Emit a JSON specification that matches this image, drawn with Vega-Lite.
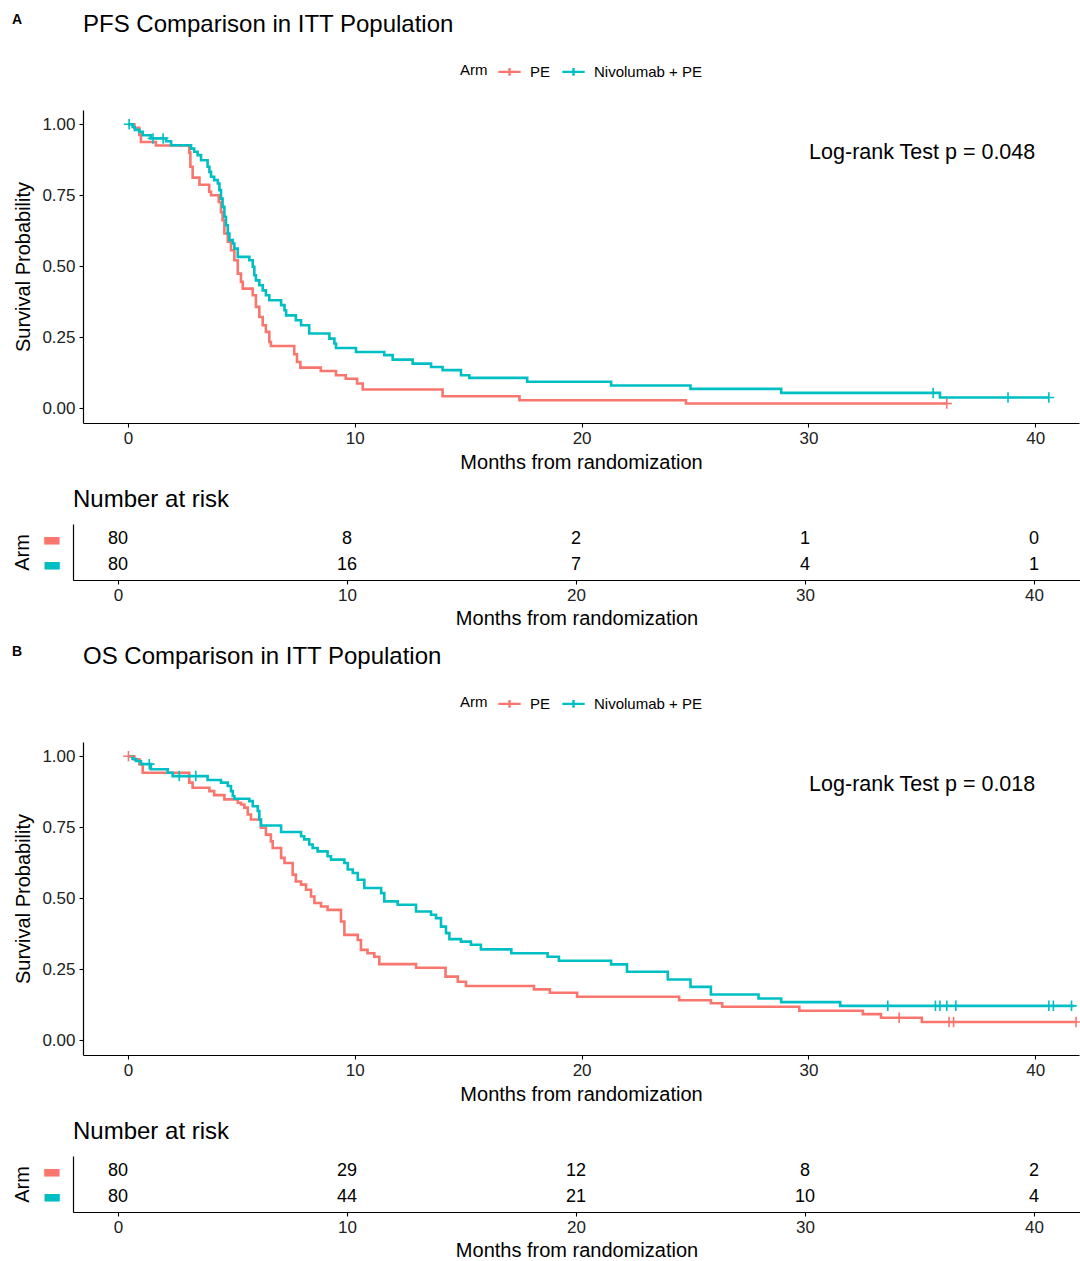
{
  "$schema": "https://vega.github.io/schema/vega-lite/v6.json",
  "padding": {"left": 12, "top": 13, "right": 0, "bottom": 0},
  "background": "white",
  "config": {
    "font": "Liberation Sans",
    "view": {"stroke": null},
    "axis": {
      "domainColor": "#000", "domainWidth": 1.2, "tickColor": "#000", "tickSize": 4, "tickWidth": 1.1,
      "labelColor": "#222", "titleColor": "#000", "titleFontWeight": "normal", "grid": false,
      "labelFont": "Liberation Sans", "titleFont": "Liberation Sans"
    },
    "title": {"color": "#000", "font": "Liberation Sans"},
    "legend": {"labelFont": "Liberation Sans", "titleFont": "Liberation Sans"}
  },
  "datasets": {
    "km": [
      {"study": "PFS", "arm": "PE", "t": 0, "s": 1},
      {"study": "PFS", "arm": "PE", "t": 0.28, "s": 0.9875},
      {"study": "PFS", "arm": "PE", "t": 0.5, "s": 0.9625},
      {"study": "PFS", "arm": "PE", "t": 0.57, "s": 0.9375},
      {"study": "PFS", "arm": "PE", "t": 1.23, "s": 0.925},
      {"study": "PFS", "arm": "PE", "t": 2.7, "s": 0.9},
      {"study": "PFS", "arm": "PE", "t": 2.75, "s": 0.85},
      {"study": "PFS", "arm": "PE", "t": 2.85, "s": 0.812},
      {"study": "PFS", "arm": "PE", "t": 3.15, "s": 0.787},
      {"study": "PFS", "arm": "PE", "t": 3.58, "s": 0.762},
      {"study": "PFS", "arm": "PE", "t": 3.66, "s": 0.75},
      {"study": "PFS", "arm": "PE", "t": 4.0, "s": 0.726},
      {"study": "PFS", "arm": "PE", "t": 4.1, "s": 0.69},
      {"study": "PFS", "arm": "PE", "t": 4.17, "s": 0.662},
      {"study": "PFS", "arm": "PE", "t": 4.25, "s": 0.615},
      {"study": "PFS", "arm": "PE", "t": 4.4, "s": 0.586},
      {"study": "PFS", "arm": "PE", "t": 4.54, "s": 0.556},
      {"study": "PFS", "arm": "PE", "t": 4.69, "s": 0.521},
      {"study": "PFS", "arm": "PE", "t": 4.84, "s": 0.474},
      {"study": "PFS", "arm": "PE", "t": 4.98, "s": 0.445},
      {"study": "PFS", "arm": "PE", "t": 5.06, "s": 0.421},
      {"study": "PFS", "arm": "PE", "t": 5.5, "s": 0.398},
      {"study": "PFS", "arm": "PE", "t": 5.64, "s": 0.357},
      {"study": "PFS", "arm": "PE", "t": 5.79, "s": 0.321},
      {"study": "PFS", "arm": "PE", "t": 5.94, "s": 0.292},
      {"study": "PFS", "arm": "PE", "t": 6.08, "s": 0.269},
      {"study": "PFS", "arm": "PE", "t": 6.23, "s": 0.233},
      {"study": "PFS", "arm": "PE", "t": 6.3, "s": 0.219},
      {"study": "PFS", "arm": "PE", "t": 7.33, "s": 0.19},
      {"study": "PFS", "arm": "PE", "t": 7.45, "s": 0.163},
      {"study": "PFS", "arm": "PE", "t": 7.6, "s": 0.143},
      {"study": "PFS", "arm": "PE", "t": 8.5, "s": 0.131},
      {"study": "PFS", "arm": "PE", "t": 9.17, "s": 0.116},
      {"study": "PFS", "arm": "PE", "t": 9.6, "s": 0.104},
      {"study": "PFS", "arm": "PE", "t": 10.1, "s": 0.087},
      {"study": "PFS", "arm": "PE", "t": 10.35, "s": 0.066},
      {"study": "PFS", "arm": "PE", "t": 13.87, "s": 0.042},
      {"study": "PFS", "arm": "PE", "t": 17.26, "s": 0.028},
      {"study": "PFS", "arm": "PE", "t": 24.6, "s": 0.0165},
      {"study": "PFS", "arm": "PE", "t": 36.1, "s": 0.0165},
      {"study": "PFS", "arm": "Nivolumab + PE", "t": 0, "s": 1},
      {"study": "PFS", "arm": "Nivolumab + PE", "t": 0.2, "s": 0.99},
      {"study": "PFS", "arm": "Nivolumab + PE", "t": 0.3, "s": 0.98},
      {"study": "PFS", "arm": "Nivolumab + PE", "t": 0.5, "s": 0.973},
      {"study": "PFS", "arm": "Nivolumab + PE", "t": 0.65, "s": 0.961},
      {"study": "PFS", "arm": "Nivolumab + PE", "t": 1.0, "s": 0.95},
      {"study": "PFS", "arm": "Nivolumab + PE", "t": 1.68, "s": 0.94},
      {"study": "PFS", "arm": "Nivolumab + PE", "t": 1.9, "s": 0.926},
      {"study": "PFS", "arm": "Nivolumab + PE", "t": 2.78, "s": 0.914},
      {"study": "PFS", "arm": "Nivolumab + PE", "t": 2.92, "s": 0.903},
      {"study": "PFS", "arm": "Nivolumab + PE", "t": 3.07, "s": 0.891},
      {"study": "PFS", "arm": "Nivolumab + PE", "t": 3.22, "s": 0.873},
      {"study": "PFS", "arm": "Nivolumab + PE", "t": 3.51, "s": 0.85},
      {"study": "PFS", "arm": "Nivolumab + PE", "t": 3.59, "s": 0.832},
      {"study": "PFS", "arm": "Nivolumab + PE", "t": 3.66, "s": 0.815},
      {"study": "PFS", "arm": "Nivolumab + PE", "t": 3.8, "s": 0.803},
      {"study": "PFS", "arm": "Nivolumab + PE", "t": 3.96, "s": 0.791},
      {"study": "PFS", "arm": "Nivolumab + PE", "t": 4.03, "s": 0.768},
      {"study": "PFS", "arm": "Nivolumab + PE", "t": 4.1, "s": 0.738},
      {"study": "PFS", "arm": "Nivolumab + PE", "t": 4.17, "s": 0.709},
      {"study": "PFS", "arm": "Nivolumab + PE", "t": 4.25, "s": 0.674},
      {"study": "PFS", "arm": "Nivolumab + PE", "t": 4.32, "s": 0.644},
      {"study": "PFS", "arm": "Nivolumab + PE", "t": 4.4, "s": 0.615},
      {"study": "PFS", "arm": "Nivolumab + PE", "t": 4.47, "s": 0.592},
      {"study": "PFS", "arm": "Nivolumab + PE", "t": 4.62, "s": 0.58},
      {"study": "PFS", "arm": "Nivolumab + PE", "t": 4.69, "s": 0.562},
      {"study": "PFS", "arm": "Nivolumab + PE", "t": 4.84, "s": 0.533},
      {"study": "PFS", "arm": "Nivolumab + PE", "t": 5.35, "s": 0.521},
      {"study": "PFS", "arm": "Nivolumab + PE", "t": 5.5, "s": 0.498},
      {"study": "PFS", "arm": "Nivolumab + PE", "t": 5.57, "s": 0.468},
      {"study": "PFS", "arm": "Nivolumab + PE", "t": 5.64, "s": 0.45},
      {"study": "PFS", "arm": "Nivolumab + PE", "t": 5.79, "s": 0.433},
      {"study": "PFS", "arm": "Nivolumab + PE", "t": 5.94, "s": 0.415},
      {"study": "PFS", "arm": "Nivolumab + PE", "t": 6.08, "s": 0.398},
      {"study": "PFS", "arm": "Nivolumab + PE", "t": 6.23, "s": 0.38},
      {"study": "PFS", "arm": "Nivolumab + PE", "t": 6.75, "s": 0.363},
      {"study": "PFS", "arm": "Nivolumab + PE", "t": 6.9, "s": 0.345},
      {"study": "PFS", "arm": "Nivolumab + PE", "t": 6.97, "s": 0.327},
      {"study": "PFS", "arm": "Nivolumab + PE", "t": 7.4, "s": 0.31},
      {"study": "PFS", "arm": "Nivolumab + PE", "t": 7.63, "s": 0.292},
      {"study": "PFS", "arm": "Nivolumab + PE", "t": 7.99, "s": 0.263},
      {"study": "PFS", "arm": "Nivolumab + PE", "t": 8.88, "s": 0.245},
      {"study": "PFS", "arm": "Nivolumab + PE", "t": 9.1, "s": 0.228},
      {"study": "PFS", "arm": "Nivolumab + PE", "t": 9.17, "s": 0.212},
      {"study": "PFS", "arm": "Nivolumab + PE", "t": 10.05, "s": 0.198},
      {"study": "PFS", "arm": "Nivolumab + PE", "t": 11.3, "s": 0.187},
      {"study": "PFS", "arm": "Nivolumab + PE", "t": 11.67, "s": 0.171},
      {"study": "PFS", "arm": "Nivolumab + PE", "t": 12.55, "s": 0.157},
      {"study": "PFS", "arm": "Nivolumab + PE", "t": 13.36, "s": 0.145},
      {"study": "PFS", "arm": "Nivolumab + PE", "t": 13.87, "s": 0.134},
      {"study": "PFS", "arm": "Nivolumab + PE", "t": 14.68, "s": 0.116},
      {"study": "PFS", "arm": "Nivolumab + PE", "t": 15.05, "s": 0.107},
      {"study": "PFS", "arm": "Nivolumab + PE", "t": 17.6, "s": 0.093},
      {"study": "PFS", "arm": "Nivolumab + PE", "t": 21.3, "s": 0.08},
      {"study": "PFS", "arm": "Nivolumab + PE", "t": 24.8, "s": 0.068},
      {"study": "PFS", "arm": "Nivolumab + PE", "t": 28.8, "s": 0.054},
      {"study": "PFS", "arm": "Nivolumab + PE", "t": 35.8, "s": 0.038},
      {"study": "PFS", "arm": "Nivolumab + PE", "t": 40.6, "s": 0.038},
      {"study": "OS", "arm": "PE", "t": 0, "s": 1},
      {"study": "OS", "arm": "PE", "t": 0.28, "s": 0.989},
      {"study": "OS", "arm": "PE", "t": 0.5, "s": 0.972},
      {"study": "OS", "arm": "PE", "t": 0.65, "s": 0.942},
      {"study": "OS", "arm": "PE", "t": 2.7, "s": 0.907},
      {"study": "OS", "arm": "PE", "t": 2.85, "s": 0.889},
      {"study": "OS", "arm": "PE", "t": 3.59, "s": 0.877},
      {"study": "OS", "arm": "PE", "t": 3.8, "s": 0.863},
      {"study": "OS", "arm": "PE", "t": 4.25, "s": 0.848},
      {"study": "OS", "arm": "PE", "t": 4.84, "s": 0.836},
      {"study": "OS", "arm": "PE", "t": 4.98, "s": 0.83},
      {"study": "OS", "arm": "PE", "t": 5.13, "s": 0.819},
      {"study": "OS", "arm": "PE", "t": 5.28, "s": 0.795},
      {"study": "OS", "arm": "PE", "t": 5.42, "s": 0.777},
      {"study": "OS", "arm": "PE", "t": 5.86, "s": 0.748},
      {"study": "OS", "arm": "PE", "t": 6.08, "s": 0.724},
      {"study": "OS", "arm": "PE", "t": 6.3, "s": 0.7},
      {"study": "OS", "arm": "PE", "t": 6.38, "s": 0.677},
      {"study": "OS", "arm": "PE", "t": 6.75, "s": 0.642},
      {"study": "OS", "arm": "PE", "t": 6.9, "s": 0.624},
      {"study": "OS", "arm": "PE", "t": 7.26, "s": 0.583},
      {"study": "OS", "arm": "PE", "t": 7.4, "s": 0.559},
      {"study": "OS", "arm": "PE", "t": 7.63, "s": 0.548},
      {"study": "OS", "arm": "PE", "t": 7.85, "s": 0.53},
      {"study": "OS", "arm": "PE", "t": 8.07, "s": 0.506},
      {"study": "OS", "arm": "PE", "t": 8.22, "s": 0.483},
      {"study": "OS", "arm": "PE", "t": 8.51, "s": 0.471},
      {"study": "OS", "arm": "PE", "t": 8.8, "s": 0.459},
      {"study": "OS", "arm": "PE", "t": 9.39, "s": 0.418},
      {"study": "OS", "arm": "PE", "t": 9.54, "s": 0.371},
      {"study": "OS", "arm": "PE", "t": 10.13, "s": 0.353},
      {"study": "OS", "arm": "PE", "t": 10.27, "s": 0.318},
      {"study": "OS", "arm": "PE", "t": 10.56, "s": 0.306},
      {"study": "OS", "arm": "PE", "t": 10.86, "s": 0.294},
      {"study": "OS", "arm": "PE", "t": 11.08, "s": 0.268},
      {"study": "OS", "arm": "PE", "t": 12.7, "s": 0.255},
      {"study": "OS", "arm": "PE", "t": 14.0, "s": 0.224},
      {"study": "OS", "arm": "PE", "t": 14.54, "s": 0.206},
      {"study": "OS", "arm": "PE", "t": 14.9, "s": 0.191},
      {"study": "OS", "arm": "PE", "t": 17.9, "s": 0.179},
      {"study": "OS", "arm": "PE", "t": 18.6, "s": 0.167},
      {"study": "OS", "arm": "PE", "t": 19.8, "s": 0.153},
      {"study": "OS", "arm": "PE", "t": 24.3, "s": 0.141},
      {"study": "OS", "arm": "PE", "t": 25.7, "s": 0.13},
      {"study": "OS", "arm": "PE", "t": 26.2, "s": 0.118},
      {"study": "OS", "arm": "PE", "t": 29.6, "s": 0.104},
      {"study": "OS", "arm": "PE", "t": 32.4, "s": 0.092},
      {"study": "OS", "arm": "PE", "t": 33.2, "s": 0.079},
      {"study": "OS", "arm": "PE", "t": 35.0, "s": 0.064},
      {"study": "OS", "arm": "PE", "t": 41.8, "s": 0.064},
      {"study": "OS", "arm": "Nivolumab + PE", "t": 0, "s": 1},
      {"study": "OS", "arm": "Nivolumab + PE", "t": 0.2, "s": 0.99},
      {"study": "OS", "arm": "Nivolumab + PE", "t": 0.35, "s": 0.983},
      {"study": "OS", "arm": "Nivolumab + PE", "t": 0.57, "s": 0.972},
      {"study": "OS", "arm": "Nivolumab + PE", "t": 1.01, "s": 0.954},
      {"study": "OS", "arm": "Nivolumab + PE", "t": 1.75, "s": 0.942},
      {"study": "OS", "arm": "Nivolumab + PE", "t": 1.97, "s": 0.93},
      {"study": "OS", "arm": "Nivolumab + PE", "t": 3.51, "s": 0.916},
      {"study": "OS", "arm": "Nivolumab + PE", "t": 4.1, "s": 0.907},
      {"study": "OS", "arm": "Nivolumab + PE", "t": 4.4, "s": 0.895},
      {"study": "OS", "arm": "Nivolumab + PE", "t": 4.54, "s": 0.877},
      {"study": "OS", "arm": "Nivolumab + PE", "t": 4.62, "s": 0.86},
      {"study": "OS", "arm": "Nivolumab + PE", "t": 4.69, "s": 0.85},
      {"study": "OS", "arm": "Nivolumab + PE", "t": 5.35, "s": 0.842},
      {"study": "OS", "arm": "Nivolumab + PE", "t": 5.5, "s": 0.824},
      {"study": "OS", "arm": "Nivolumab + PE", "t": 5.72, "s": 0.807},
      {"study": "OS", "arm": "Nivolumab + PE", "t": 5.79, "s": 0.777},
      {"study": "OS", "arm": "Nivolumab + PE", "t": 5.86, "s": 0.756},
      {"study": "OS", "arm": "Nivolumab + PE", "t": 6.75, "s": 0.733},
      {"study": "OS", "arm": "Nivolumab + PE", "t": 7.63, "s": 0.718},
      {"study": "OS", "arm": "Nivolumab + PE", "t": 7.77, "s": 0.707},
      {"study": "OS", "arm": "Nivolumab + PE", "t": 7.99, "s": 0.689},
      {"study": "OS", "arm": "Nivolumab + PE", "t": 8.14, "s": 0.677},
      {"study": "OS", "arm": "Nivolumab + PE", "t": 8.36, "s": 0.665},
      {"study": "OS", "arm": "Nivolumab + PE", "t": 8.8, "s": 0.648},
      {"study": "OS", "arm": "Nivolumab + PE", "t": 8.95, "s": 0.636},
      {"study": "OS", "arm": "Nivolumab + PE", "t": 9.54, "s": 0.624},
      {"study": "OS", "arm": "Nivolumab + PE", "t": 9.69, "s": 0.601},
      {"study": "OS", "arm": "Nivolumab + PE", "t": 9.91, "s": 0.589},
      {"study": "OS", "arm": "Nivolumab + PE", "t": 10.13, "s": 0.565},
      {"study": "OS", "arm": "Nivolumab + PE", "t": 10.42, "s": 0.536},
      {"study": "OS", "arm": "Nivolumab + PE", "t": 11.16, "s": 0.518},
      {"study": "OS", "arm": "Nivolumab + PE", "t": 11.3, "s": 0.489},
      {"study": "OS", "arm": "Nivolumab + PE", "t": 11.89, "s": 0.477},
      {"study": "OS", "arm": "Nivolumab + PE", "t": 12.7, "s": 0.453},
      {"study": "OS", "arm": "Nivolumab + PE", "t": 13.36, "s": 0.442},
      {"study": "OS", "arm": "Nivolumab + PE", "t": 13.58, "s": 0.43},
      {"study": "OS", "arm": "Nivolumab + PE", "t": 13.8, "s": 0.4},
      {"study": "OS", "arm": "Nivolumab + PE", "t": 14.02, "s": 0.377},
      {"study": "OS", "arm": "Nivolumab + PE", "t": 14.17, "s": 0.356},
      {"study": "OS", "arm": "Nivolumab + PE", "t": 14.68, "s": 0.347},
      {"study": "OS", "arm": "Nivolumab + PE", "t": 15.12, "s": 0.336},
      {"study": "OS", "arm": "Nivolumab + PE", "t": 15.56, "s": 0.32},
      {"study": "OS", "arm": "Nivolumab + PE", "t": 16.9, "s": 0.306},
      {"study": "OS", "arm": "Nivolumab + PE", "t": 18.5, "s": 0.294},
      {"study": "OS", "arm": "Nivolumab + PE", "t": 19.0, "s": 0.28},
      {"study": "OS", "arm": "Nivolumab + PE", "t": 21.3, "s": 0.267},
      {"study": "OS", "arm": "Nivolumab + PE", "t": 22.0, "s": 0.241},
      {"study": "OS", "arm": "Nivolumab + PE", "t": 23.8, "s": 0.214},
      {"study": "OS", "arm": "Nivolumab + PE", "t": 24.8, "s": 0.188},
      {"study": "OS", "arm": "Nivolumab + PE", "t": 25.7, "s": 0.161},
      {"study": "OS", "arm": "Nivolumab + PE", "t": 27.8, "s": 0.147},
      {"study": "OS", "arm": "Nivolumab + PE", "t": 28.8, "s": 0.134},
      {"study": "OS", "arm": "Nivolumab + PE", "t": 31.4, "s": 0.121},
      {"study": "OS", "arm": "Nivolumab + PE", "t": 41.7, "s": 0.121}
    ],
    "censor": [
      {"study": "PFS", "arm": "PE", "t": 36.1, "s": 0.0165},
      {"study": "PFS", "arm": "Nivolumab + PE", "t": 0.05, "s": 1},
      {"study": "PFS", "arm": "Nivolumab + PE", "t": 1.1, "s": 0.95},
      {"study": "PFS", "arm": "Nivolumab + PE", "t": 1.55, "s": 0.95},
      {"study": "PFS", "arm": "Nivolumab + PE", "t": 35.5, "s": 0.054},
      {"study": "PFS", "arm": "Nivolumab + PE", "t": 38.8, "s": 0.038},
      {"study": "PFS", "arm": "Nivolumab + PE", "t": 40.6, "s": 0.038},
      {"study": "OS", "arm": "PE", "t": 0.02, "s": 1},
      {"study": "OS", "arm": "PE", "t": 34.0, "s": 0.079},
      {"study": "OS", "arm": "PE", "t": 36.2, "s": 0.064},
      {"study": "OS", "arm": "PE", "t": 36.4, "s": 0.064},
      {"study": "OS", "arm": "PE", "t": 41.8, "s": 0.064},
      {"study": "OS", "arm": "Nivolumab + PE", "t": 0.94, "s": 0.972},
      {"study": "OS", "arm": "Nivolumab + PE", "t": 2.26, "s": 0.93},
      {"study": "OS", "arm": "Nivolumab + PE", "t": 2.99, "s": 0.93},
      {"study": "OS", "arm": "Nivolumab + PE", "t": 33.5, "s": 0.121},
      {"study": "OS", "arm": "Nivolumab + PE", "t": 35.6, "s": 0.121},
      {"study": "OS", "arm": "Nivolumab + PE", "t": 35.8, "s": 0.121},
      {"study": "OS", "arm": "Nivolumab + PE", "t": 36.1, "s": 0.121},
      {"study": "OS", "arm": "Nivolumab + PE", "t": 36.5, "s": 0.121},
      {"study": "OS", "arm": "Nivolumab + PE", "t": 40.6, "s": 0.121},
      {"study": "OS", "arm": "Nivolumab + PE", "t": 40.8, "s": 0.121},
      {"study": "OS", "arm": "Nivolumab + PE", "t": 41.6, "s": 0.121}
    ],
    "risk": [
      {"study": "PFS", "arm": "PE", "t": 0, "n": 80},
      {"study": "PFS", "arm": "PE", "t": 10, "n": 8},
      {"study": "PFS", "arm": "PE", "t": 20, "n": 2},
      {"study": "PFS", "arm": "PE", "t": 30, "n": 1},
      {"study": "PFS", "arm": "PE", "t": 40, "n": 0},
      {"study": "PFS", "arm": "Nivolumab + PE", "t": 0, "n": 80},
      {"study": "PFS", "arm": "Nivolumab + PE", "t": 10, "n": 16},
      {"study": "PFS", "arm": "Nivolumab + PE", "t": 20, "n": 7},
      {"study": "PFS", "arm": "Nivolumab + PE", "t": 30, "n": 4},
      {"study": "PFS", "arm": "Nivolumab + PE", "t": 40, "n": 1},
      {"study": "OS", "arm": "PE", "t": 0, "n": 80},
      {"study": "OS", "arm": "PE", "t": 10, "n": 29},
      {"study": "OS", "arm": "PE", "t": 20, "n": 12},
      {"study": "OS", "arm": "PE", "t": 30, "n": 8},
      {"study": "OS", "arm": "PE", "t": 40, "n": 2},
      {"study": "OS", "arm": "Nivolumab + PE", "t": 0, "n": 80},
      {"study": "OS", "arm": "Nivolumab + PE", "t": 10, "n": 44},
      {"study": "OS", "arm": "Nivolumab + PE", "t": 20, "n": 21},
      {"study": "OS", "arm": "Nivolumab + PE", "t": 30, "n": 10},
      {"study": "OS", "arm": "Nivolumab + PE", "t": 40, "n": 4}
    ]
  },
  "spacing": 17,
  "resolve": {"legend": {"color": "independent"}, "scale": {"x": "independent", "y": "independent"}},
  "vconcat": [
    {
      "title": {"text": "A", "anchor": "start", "frame": "bounds", "fontSize": 14, "fontWeight": "bold", "offset": 0, "dy": 14},
      "spacing": 16,
      "resolve": {"legend": {"color": "independent"}, "scale": {"x": "independent", "y": "independent"}},
      "vconcat": [
        {
          "width": 1006,
          "height": 313,
          "title": {"text": "PFS Comparison in ITT Population", "anchor": "start", "frame": "group", "fontSize": 24, "fontWeight": "normal", "dx": 10, "offset": 22},
          "layer": [
            {
              "data": {"name": "km"},
              "transform": [{"filter": "datum.study == 'PFS'"}],
              "mark": {"type": "line", "interpolate": "step-after", "strokeWidth": 2.6},
              "encoding": {
                "x": {"field": "t", "type": "quantitative", "scale": {"domain": [-2.425, 41.93], "nice": false, "zero": false},
                  "axis": {"values": [0, 10, 20, 30, 40], "title": "Months from randomization", "titleFontSize": 20, "labelFontSize": 17, "labelPadding": 3, "titlePadding": 6, "titleX": 508, "domainDash": [0, 10, 1200, 0]}},
                "y": {"field": "s", "type": "quantitative", "scale": {"domain": [-0.052, 1.05], "nice": false, "zero": false},
                  "axis": {"values": [0, 0.25, 0.5, 0.75, 1], "format": ".2f", "title": "Survival Probability", "titleFontSize": 20, "labelFontSize": 17, "labelPadding": 4, "titlePadding": 8, "offset": -10}},
                "color": {"field": "arm", "type": "nominal", "scale": {"domain": ["PE", "Nivolumab + PE"], "range": ["#F8766D", "#00BFC4"]},
                  "legend": {"title": "Arm", "orient": "none", "legendX": 387, "legendY": -51, "direction": "horizontal", "titleOrient": "left", "titleFontSize": 15, "titleFontWeight": "normal", "titlePadding": 9, "labelFontSize": 15, "labelColor": "#000", "titleColor": "#000", "symbolType": "M-1,0H1M0,-0.35V0.35", "symbolSize": 500, "symbolStrokeWidth": 2.4, "labelOffset": 8, "columnPadding": 6}}
              }
            },
            {
              "data": {"name": "censor"},
              "transform": [{"filter": "datum.study == 'PFS'"}],
              "mark": {"type": "point", "shape": "M-1,0H1M0,-1V1", "filled": false, "size": 110, "strokeWidth": 1.6, "opacity": 1},
              "encoding": {
                "x": {"field": "t", "type": "quantitative"},
                "y": {"field": "s", "type": "quantitative"},
                "color": {"field": "arm", "type": "nominal"}
              }
            },
            {
              "data": {"values": [{"label": "Log-rank Test p = 0.048"}]},
              "mark": {"type": "text", "align": "right", "baseline": "middle", "fontSize": 21.5, "color": "#000"},
              "encoding": {
                "x": {"datum": 40, "type": "quantitative"},
                "y": {"datum": 0.898, "type": "quantitative"},
                "text": {"field": "label"}
              }
            }
          ]
        },
        {
          "width": 1007,
          "height": 56,
          "title": {"text": "Number at risk", "anchor": "start", "frame": "group", "fontSize": 24, "fontWeight": "normal", "offset": 12},
          "data": {"name": "risk"},
          "transform": [{"filter": "datum.study == 'PFS'"}],
          "mark": {"type": "text", "fontSize": 18, "color": "#000", "baseline": "middle"},
          "encoding": {
            "x": {"field": "t", "type": "quantitative", "scale": {"domain": [-1.965, 42.01], "nice": false, "zero": false},
              "axis": {"values": [0, 10, 20, 30, 40], "title": "Months from randomization", "titleFontSize": 20, "labelFontSize": 17, "labelPadding": 3, "titlePadding": 5}},
            "y": {"field": "arm", "type": "nominal", "scale": {"type": "point", "domain": ["PE", "Nivolumab + PE"], "padding": 0.577},
              "axis": {"title": "Arm", "titleFontSize": 20, "titlePadding": 10, "ticks": false, "labelExpr": "'▬'", "labelFont": "DejaVu Sans", "labelFontSize": 20, "labelPadding": 12,
                "labelColor": {"condition": {"test": "datum.value == 'PE'", "value": "#F8766D"}, "value": "#00BFC4"}}},
            "text": {"field": "n", "type": "quantitative"}
          }
        }
      ]
    },
    {
      "title": {"text": "B", "anchor": "start", "frame": "bounds", "fontSize": 14, "fontWeight": "bold", "offset": 0, "dy": 14},
      "spacing": 16,
      "resolve": {"legend": {"color": "independent"}, "scale": {"x": "independent", "y": "independent"}},
      "vconcat": [
        {
          "width": 1006,
          "height": 313,
          "title": {"text": "OS Comparison in ITT Population", "anchor": "start", "frame": "group", "fontSize": 24, "fontWeight": "normal", "dx": 10, "offset": 22},
          "layer": [
            {
              "data": {"name": "km"},
              "transform": [{"filter": "datum.study == 'OS'"}],
              "mark": {"type": "line", "interpolate": "step-after", "strokeWidth": 2.6},
              "encoding": {
                "x": {"field": "t", "type": "quantitative", "scale": {"domain": [-2.425, 41.93], "nice": false, "zero": false},
                  "axis": {"values": [0, 10, 20, 30, 40], "title": "Months from randomization", "titleFontSize": 20, "labelFontSize": 17, "labelPadding": 3, "titlePadding": 6, "titleX": 508, "domainDash": [0, 10, 1200, 0]}},
                "y": {"field": "s", "type": "quantitative", "scale": {"domain": [-0.052, 1.05], "nice": false, "zero": false},
                  "axis": {"values": [0, 0.25, 0.5, 0.75, 1], "format": ".2f", "title": "Survival Probability", "titleFontSize": 20, "labelFontSize": 17, "labelPadding": 4, "titlePadding": 8, "offset": -10}},
                "color": {"field": "arm", "type": "nominal", "scale": {"domain": ["PE", "Nivolumab + PE"], "range": ["#F8766D", "#00BFC4"]},
                  "legend": {"title": "Arm", "orient": "none", "legendX": 387, "legendY": -51, "direction": "horizontal", "titleOrient": "left", "titleFontSize": 15, "titleFontWeight": "normal", "titlePadding": 9, "labelFontSize": 15, "labelColor": "#000", "titleColor": "#000", "symbolType": "M-1,0H1M0,-0.35V0.35", "symbolSize": 500, "symbolStrokeWidth": 2.4, "labelOffset": 8, "columnPadding": 6}}
              }
            },
            {
              "data": {"name": "censor"},
              "transform": [{"filter": "datum.study == 'OS'"}],
              "mark": {"type": "point", "shape": "M-1,0H1M0,-1V1", "filled": false, "size": 110, "strokeWidth": 1.6, "opacity": 1},
              "encoding": {
                "x": {"field": "t", "type": "quantitative"},
                "y": {"field": "s", "type": "quantitative"},
                "color": {"field": "arm", "type": "nominal"}
              }
            },
            {
              "data": {"values": [{"label": "Log-rank Test p = 0.018"}]},
              "mark": {"type": "text", "align": "right", "baseline": "middle", "fontSize": 21.5, "color": "#000"},
              "encoding": {
                "x": {"datum": 40, "type": "quantitative"},
                "y": {"datum": 0.898, "type": "quantitative"},
                "text": {"field": "label"}
              }
            }
          ]
        },
        {
          "width": 1007,
          "height": 56,
          "title": {"text": "Number at risk", "anchor": "start", "frame": "group", "fontSize": 24, "fontWeight": "normal", "offset": 12},
          "data": {"name": "risk"},
          "transform": [{"filter": "datum.study == 'OS'"}],
          "mark": {"type": "text", "fontSize": 18, "color": "#000", "baseline": "middle"},
          "encoding": {
            "x": {"field": "t", "type": "quantitative", "scale": {"domain": [-1.965, 42.01], "nice": false, "zero": false},
              "axis": {"values": [0, 10, 20, 30, 40], "title": "Months from randomization", "titleFontSize": 20, "labelFontSize": 17, "labelPadding": 3, "titlePadding": 5}},
            "y": {"field": "arm", "type": "nominal", "scale": {"type": "point", "domain": ["PE", "Nivolumab + PE"], "padding": 0.577},
              "axis": {"title": "Arm", "titleFontSize": 20, "titlePadding": 10, "ticks": false, "labelExpr": "'▬'", "labelFont": "DejaVu Sans", "labelFontSize": 20, "labelPadding": 12,
                "labelColor": {"condition": {"test": "datum.value == 'PE'", "value": "#F8766D"}, "value": "#00BFC4"}}},
            "text": {"field": "n", "type": "quantitative"}
          }
        }
      ]
    }
  ]
}
